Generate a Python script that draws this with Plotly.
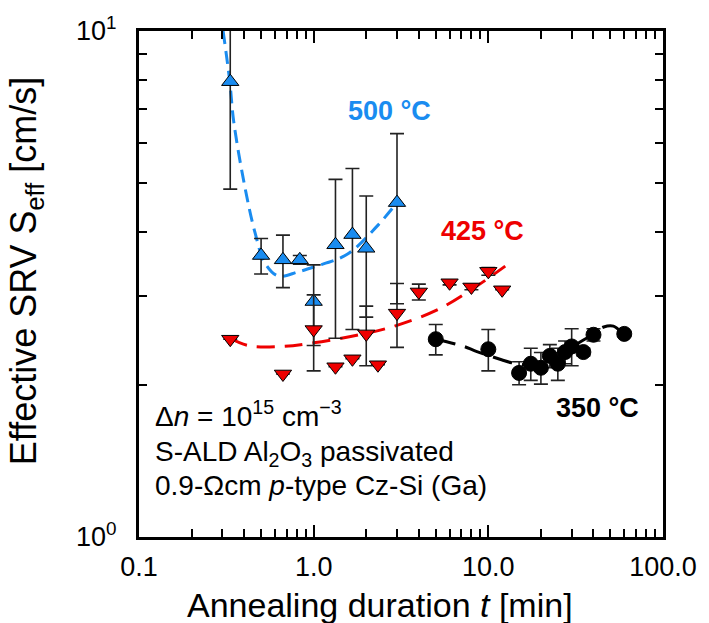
import plotly.graph_objects as go

FONT = "Arial, Liberation Sans, sans-serif"
BLUE = "#1a8cf0"
RED = "#ee0000"

# 500 °C data (blue, up-triangles)
t500 = [0.333, 0.5, 0.667, 0.833, 1.0, 1.333, 1.667, 2.0, 3.0]
s500 = [7.94, 3.60, 3.53, 3.53, 2.92, 3.78, 3.96, 3.72, 4.58]
e500 = [3.07, 0.29, 0.42, 0.07, 0.53, 1.31, 1.39, 1.0, 1.69]

# 425 °C data (red, down-triangles)
t425 = [0.333, 0.667, 1.0, 1.333, 1.667, 2.0, 2.333, 3.0, 4.0, 6.0, 8.0, 10.0, 12.0]
s425 = [2.46, 2.10, 2.57, 2.17, 2.25, 2.52, 2.19, 2.77, 3.05, 3.18, 3.12, 3.35, 3.08]
e425 = [None, None, 0.44, None, None, 0.34, None, 0.40, 0.11, 0.03, 0.04, 0.06, None]

# 350 °C data (black circles)
t350 = [5.0, 10.0, 15.0, 17.5, 20.0, 22.5, 25.0, 27.5, 30.0, 35.0, 40.0, 60.0]
s350 = [2.46, 2.35, 2.11, 2.20, 2.16, 2.28, 2.20, 2.32, 2.38, 2.32, 2.51, 2.52]
e350 = [0.17, 0.22, 0.11, 0.16, 0.155, 0.12, 0.16, 0.12, 0.2, 0.04, 0.07, 0.03]

# fitted guide curves
fit500_t = [0.303, 0.331, 0.348, 0.40, 0.462, 0.526, 0.626, 0.81, 1.01, 1.556, 2.30, 3.0]
fit500_s = [10.0, 7.94, 6.65, 5.0, 3.99, 3.48, 3.28, 3.34, 3.42, 3.62, 4.11, 4.58]
fit425_t = [0.333, 0.42, 0.65, 1.0, 1.93, 3.0, 5.2, 8.1, 12.5]
fit425_s = [2.47, 2.39, 2.38, 2.42, 2.52, 2.62, 2.82, 3.09, 3.43]
fit350_t = [5.0, 7.25, 8.45, 11.9, 13.6, 17.5, 22.0, 27.0, 33.0, 40.0, 45.8, 52.0, 59.4]
fit350_s = [2.46, 2.38, 2.33, 2.24, 2.21, 2.19, 2.24, 2.32, 2.42, 2.52, 2.60, 2.61, 2.51]

x_tickvals = [0.1, 1, 10, 100]
x_ticktext = ["0.1", "1.0", "10.0", "100.0"]
y_tickvals = [1, 10]
y_ticktext = ["10<sup>0</sup>", "10<sup>1</sup>"]

fig = go.Figure()

# curves
fig.add_trace(go.Scatter(x=fit425_t, y=fit425_s, mode="lines", line_shape="spline",
                         line=dict(color=RED, width=3, dash="18px,10px"), hoverinfo="skip"))
fig.add_trace(go.Scatter(x=fit500_t, y=fit500_s, mode="lines", line_shape="spline",
                         line=dict(color=BLUE, width=3, dash="13px,7px"), hoverinfo="skip"))
fig.add_trace(go.Scatter(x=fit350_t, y=fit350_s, mode="lines", line_shape="spline",
                         line=dict(color="black", width=3, dash="20px,10px"), hoverinfo="skip"))

err_style = dict(type="data", color="#222222", thickness=1.6, width=7)

fig.add_trace(go.Scatter(x=t500, y=s500, mode="markers",
                         marker=dict(symbol="triangle-up", size=15, color=BLUE,
                                     line=dict(color="black", width=1)),
                         error_y=dict(array=e500, **err_style)))
fig.add_trace(go.Scatter(x=t425, y=s425, mode="markers",
                         marker=dict(symbol="triangle-down", size=15, color=RED,
                                     line=dict(color="black", width=1)),
                         error_y=dict(array=e425, **err_style)))
fig.add_trace(go.Scatter(x=t350, y=s350, mode="markers",
                         marker=dict(symbol="circle", size=15, color="black",
                                     line=dict(color="black", width=1)),
                         error_y=dict(array=e350, **err_style)))

axis_common = dict(
    type="log", showline=True, linewidth=3, linecolor="black", mirror="ticks",
    ticks="inside", tickwidth=2, tickcolor="black", showgrid=False, zeroline=False,
    tickfont=dict(family=FONT, size=27, color="black"),
    minor=dict(ticks="inside", ticklen=8, tickwidth=2, tickcolor="black",
               dtick="D1", showgrid=False),
)

fig.update_xaxes(range=[-1, 2], tickmode="array", tickvals=x_tickvals, ticktext=x_ticktext,
                 ticklen=12, ticklabelstandoff=4, **axis_common)
fig.update_yaxes(range=[0, 1], tickmode="array", tickvals=y_tickvals, ticktext=y_ticktext,
                 ticklen=8, ticklabelstandoff=14, **axis_common)

ann = []
ann.append(dict(xref="paper", yref="paper", x=0.46, y=-0.135, xanchor="center", yanchor="middle",
                text="Annealing duration <i>t</i> [min]", showarrow=False,
                font=dict(family=FONT, size=34, color="black")))
ann.append(dict(xref="paper", yref="paper", x=-0.215, y=0.526, xanchor="center", yanchor="middle",
                text="Effective SRV S<sub>eff</sub> [cm/s]", textangle=-90, showarrow=False,
                font=dict(family=FONT, size=36, color="black")))
# series labels (log10 data coords)
ann.append(dict(x=0.435, y=0.841, text="<b>500 °C</b>", showarrow=False,
                font=dict(family=FONT, size=27, color=BLUE)))
ann.append(dict(x=0.965, y=0.605, text="<b>425 °C</b>", showarrow=False,
                font=dict(family=FONT, size=27, color=RED)))
ann.append(dict(x=1.625, y=0.255, text="<b>350 °C</b>", showarrow=False,
                font=dict(family=FONT, size=27, color="black")))
# info text
info = ["Δ<i>n</i> = 10<sup>15</sup> cm<sup>−3</sup>",
        "S-ALD Al<sub>2</sub>O<sub>3</sub> passivated",
        "0.9-Ωcm <i>p</i>-type Cz-Si (Ga)"]
info_y = [413, 453, 485]
for txt, yy in zip(info, info_y):
    ann.append(dict(xref="paper", yref="paper", x=(153 - 139) / 531, y=(537 - yy) / 511,
                    xanchor="left", yanchor="middle", text=txt, showarrow=False,
                    font=dict(family=FONT, size=28, color="black")))

fig.update_layout(
    width=709, height=623,
    margin=dict(l=139, r=39, t=26, b=86, pad=0),
    plot_bgcolor="white", paper_bgcolor="white",
    showlegend=False, annotations=ann,
    font=dict(family=FONT, color="black"),
)

fig.write_html("out.html")
